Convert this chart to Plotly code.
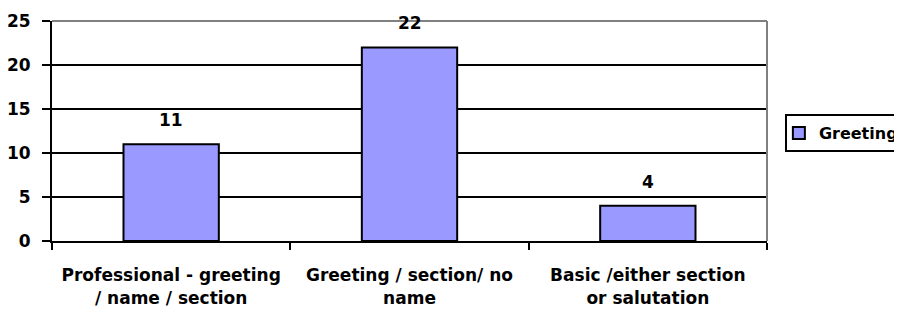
import plotly.graph_objects as go

categories = ["Professional - greeting<br>/ name / section",
              "Greeting / section/ no<br>name",
              "Basic /either section<br>or salutation"]
values = [11, 22, 4]
series_name = "Greeting"
y_ticks = [0, 5, 10, 15, 20, 25]

FONT = "DejaVu Sans"
fig = go.Figure()
fig.add_trace(go.Bar(
    x=categories, y=values, name=series_name,
    marker=dict(color="#9999FF", line=dict(color="black", width=2)),
    showlegend=True,
))
for c, v in zip(categories, values):
    fig.add_annotation(x=c, y=v, text=str(v), showarrow=False, yshift=24,
                       font=dict(family=FONT, size=17, color="black", weight="bold"))

fig.update_layout(
    width=894, height=306,
    margin=dict(l=44, r=135, t=13, b=73, autoexpand=False),
    paper_bgcolor="white", plot_bgcolor="white",
    bargap=0.6,
    font=dict(family=FONT, size=17, color="black", weight="bold"),
    showlegend=True,
    legend=dict(x=1.025, y=0.577, xanchor="left", yanchor="top",
                bordercolor="black", borderwidth=2, bgcolor="white",
                font=dict(family=FONT, size=16, color="black", weight="bold"),
                itemwidth=30, indentation=-8),
)
fig.update_yaxes(range=[0, 25], tickvals=y_ticks, showgrid=True, gridcolor="black", gridwidth=2,
                 showline=True, linecolor="black", linewidth=2,
                 ticks="outside", ticklen=8, tickwidth=2, tickcolor="black",
                 ticklabelstandoff=8, zeroline=False, automargin=False)
fig.update_xaxes(showline=True, linecolor="black", linewidth=2,
                 ticks="outside", tickson="boundaries", ticklen=7, tickwidth=2, tickcolor="black",
                 ticklabelstandoff=18, showgrid=False, tickangle=0, automargin=False)
# gray top and right plot-area border
fig.add_shape(type="line", xref="paper", yref="paper", x0=0, x1=1, y0=1, y1=1,
              line=dict(color="#808080", width=2))
fig.add_shape(type="line", xref="paper", yref="paper", x0=1, x1=1, y0=0, y1=1,
              line=dict(color="#808080", width=2))
fig.write_html("out.html")
